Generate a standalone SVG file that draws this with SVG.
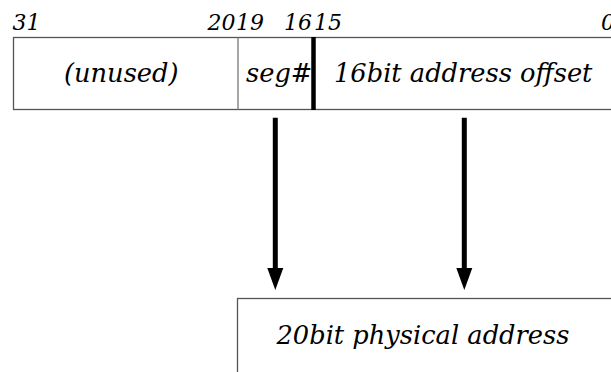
<svg xmlns="http://www.w3.org/2000/svg" width="611" height="372" viewBox="0 0 611 372">
<style>
text{font-family:"DejaVu Serif","Liberation Serif",serif;font-style:italic;fill:#000}
.bit{font-size:22px}
.lbl{font-size:25.7px}
.box{fill:#fff;stroke:#555;stroke-width:1.3}
.div{stroke:#777;stroke-width:1.3}
.shaft{stroke:#000;stroke-width:5}
.head{fill:#000}
</style>
<rect width="611" height="372" fill="#fff"/>
<g id="bit-labels">
<text class="bit" x="12.5" y="29.5">31</text>
<text class="bit" x="207.5" y="29.5">20</text>
<text class="bit" x="236" y="29.5">19</text>
<text class="bit" x="284" y="29.5">16</text>
<text class="bit" x="314" y="29.5">15</text>
<text class="bit" x="601" y="29.5">0</text>
</g>
<g id="register">
<rect class="box" x="13.5" y="37.5" width="620" height="72"/>
<line class="div" x1="238" y1="37.5" x2="238" y2="109.5"/>
<line stroke="#000" stroke-width="4.5" x1="313.5" y1="37" x2="313.5" y2="110"/>
<text class="lbl" x="64" y="82">(unused)</text>
<text class="lbl" x="246" y="82">seg#</text>
<text class="lbl" x="334" y="82">16bit address offset</text>
</g>
<g id="physical">
<rect class="box" x="237.5" y="298.5" width="400" height="100"/>
<text class="lbl" x="276.5" y="344">20bit physical address</text>
</g>
<g id="connectors">
<line class="shaft" x1="275.3" y1="117.7" x2="275.3" y2="270"/>
<polygon class="head" points="267.3,268 283.3,268 275.3,290"/>
<line class="shaft" x1="464.3" y1="117.7" x2="464.3" y2="270"/>
<polygon class="head" points="456.3,268 472.3,268 464.3,290"/>
</g>
</svg>
